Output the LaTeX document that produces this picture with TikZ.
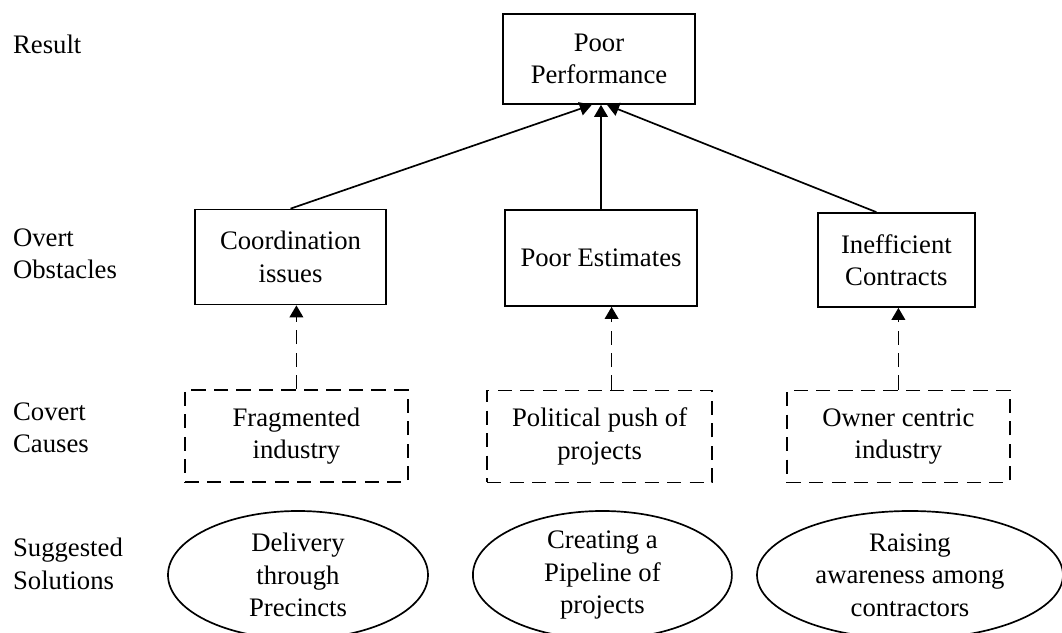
\documentclass[tikz,border=0pt]{standalone}
\usepackage{fontspec}
\setmainfont{Liberation Serif}
\usetikzlibrary{arrows.meta,shapes.geometric}

\begin{document}
\begin{tikzpicture}[
  font=\fontsize{19}{23}\selectfont,
  level/.style={anchor=west, align=left, inner sep=0pt},
  overtbox/.style={draw, line width=1.2pt, align=center, inner sep=0pt},
  covertbox/.style={draw, line width=1.2pt, dash pattern=on 10pt off 6pt, align=center, inner sep=0pt},
  solution/.style={draw, ellipse, line width=1.2pt, align=center, inner sep=0pt},
  solidarrow/.style={line width=1.2pt, -{Triangle[length=0.3cm,width=0.34cm]}},
  dasharrow/.style={line width=1.2pt, dash pattern=on 10pt off 6pt, -{Triangle[length=0.3cm,width=0.34cm]}}
]
\useasboundingbox (0,0) rectangle (26.55,-15.825);

% Row labels
\node[level] (lres) at (0.32,-1.1) {Result};
\node[level] (lobs) at (0.32,-6.35) {Overt\\Obstacles};
\node[level] (lcau) at (0.32,-10.7) {Covert\\Causes};
\node[level] (lsol) at (0.32,-14.1) {Suggested\\Solutions};

% Result
\node[overtbox, minimum width=4.8cm, minimum height=2.25cm] (perf) at (14.975,-1.475) {Poor\\Performance};

% Overt obstacles
\node[overtbox, minimum width=4.775cm, minimum height=2.375cm] (coord) at (7.2625,-6.425) {Coordination\\issues};
\node[overtbox, minimum width=4.8cm, minimum height=2.4cm] (estim) at (15.025,-6.45) {Poor Estimates};
\node[overtbox, minimum width=3.925cm, minimum height=2.35cm] (contr) at (22.41,-6.5) {Inefficient\\Contracts};

% Covert causes
\node[covertbox, minimum width=5.575cm, minimum height=2.3cm] (frag) at (7.41,-10.9) {Fragmented\\industry};
\node[covertbox, minimum width=5.625cm, minimum height=2.3cm] (polit) at (14.99,-10.91) {Political push of\\projects};
\node[covertbox, minimum width=5.575cm, minimum height=2.3cm] (owner) at (22.46,-10.91) {Owner centric\\industry};

% Suggested solutions
\node[solution, minimum width=6.5cm, minimum height=3.2cm] (deliv) at (7.45,-14.375) {Delivery\\through\\Precincts};
\node[solution, minimum width=6.475cm, minimum height=3.2cm] (pipe) at (15.06,-14.375) {Creating a\\Pipeline of\\projects};
\node[solution, minimum width=7.65cm, minimum height=3.2cm] (aware) at (22.75,-14.375) {Raising\\awareness among\\contractors};

% Obstacles lead to result
\draw[solidarrow] (coord.north) -- ([xshift=-0.18cm]perf.south);
\draw[solidarrow] (estim.north) -- (estim.north |- perf.south);
\draw[solidarrow] ([xshift=-0.5cm]contr.north) -- ([xshift=0.2cm]perf.south);

% Causes lead to obstacles
\draw[dasharrow] (frag.north) -- (frag.north |- coord.south);
\draw[dasharrow] ([xshift=0.3cm]polit.north) -- ([xshift=0.3cm]polit.north |- estim.south);
\draw[dasharrow] (owner.north) -- (owner.north |- contr.south);
\end{tikzpicture}
\end{document}
